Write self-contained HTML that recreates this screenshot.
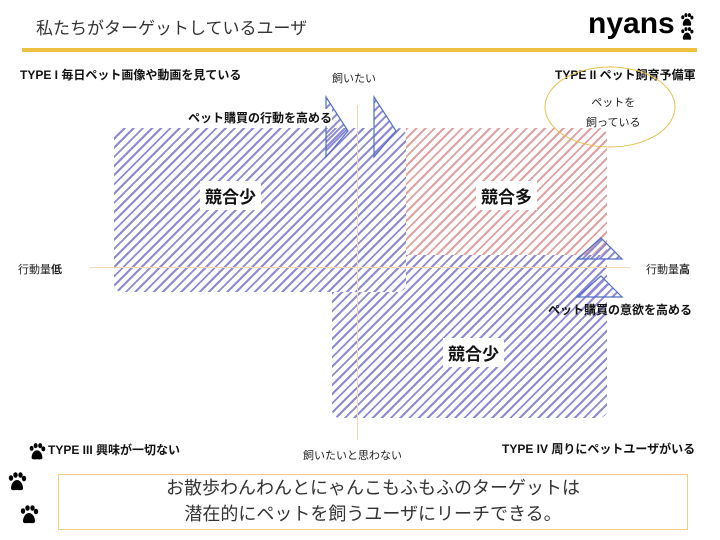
<!DOCTYPE html>
<html><head><meta charset="utf-8"><style>
body{margin:0;width:720px;height:540px;background:#fff;position:relative;overflow:hidden;font-family:"Liberation Sans","Noto Sans CJK JP",sans-serif;color:#222}
.a{position:absolute;white-space:nowrap}
.b{font-weight:bold;font-size:12px;color:#111}
.hb{position:absolute;border-radius:8px;background:repeating-linear-gradient(135deg,#8c8ad8 0 2px,#fff 2px 6.5px)}
.hr{position:absolute;background:repeating-linear-gradient(135deg,#e3a0a0 0 2px,#fff 2px 6.5px)}
.lbl{position:absolute;background:#fff;font-weight:bold;font-size:17px;padding:2px 5px;color:#111}
</style></head><body>
<svg width="0" height="0" style="position:absolute"><defs><symbol id="paw" viewBox="0 0 20 20"><ellipse cx="4" cy="6" rx="2.2" ry="2.8"/><ellipse cx="8.5" cy="3" rx="2.2" ry="2.8"/><ellipse cx="13.5" cy="3" rx="2.2" ry="2.8"/><ellipse cx="17" cy="6.5" rx="2.2" ry="2.8"/><path d="M10,8 C6,8 4,13 4,16 C4,19 7,18 10,18 C13,18 16,19 16,16 C16,13 14,8 10,8Z"/></symbol></defs></svg>
<div class="a" style="left:36px;top:14px;font-size:17px;color:#333">私たちがターゲットしているユーザ</div>
<div class="a" style="left:588px;top:7px;font-size:30px;font-weight:900;color:#000">nyans</div>
<svg class="a" style="left:680px;top:13px" width="14" height="14"><use href="#paw"/></svg>
<svg class="a" style="left:680px;top:27px" width="14" height="14"><use href="#paw"/></svg>
<div class="a" style="left:22px;top:48px;width:675px;height:4px;background:#f0c040"></div>
<div class="a b" style="left:20px;top:66px">TYPE I 毎日ペット画像や動画を見ている</div>
<div class="a b" style="left:555px;top:66px">TYPE II ペット飼育予備軍</div>
<div class="a b" style="left:48px;top:441px">TYPE III 興味が一切ない</div>
<div class="a b" style="left:502px;top:440px">TYPE IV 周りにペットユーザがいる</div>
<div class="a" style="left:332px;top:70px;font-size:11px">飼いたい</div>
<div class="a" style="left:303px;top:447px;font-size:11px">飼いたいと思わない</div>
<div class="a" style="left:18px;top:261px;font-size:11px">行動量<b>低</b></div>
<div class="a" style="left:646px;top:261px;font-size:11px">行動量<b>高</b></div>
<div class="hb" style="left:332px;top:255px;width:275px;height:163px"></div>
<div class="hb" style="left:114px;top:128px;width:292px;height:164px"></div>
<div class="hr" style="left:406px;top:128px;width:201px;height:127px;border-radius:0 8px 0 0"></div>
<div class="a" style="left:357px;top:105px;width:1px;height:335px;background:#f3d9b0"></div>
<div class="a" style="left:90px;top:267px;width:540px;height:1px;background:#f3d9b0"></div>
<div class="lbl" style="left:200px;top:181px">競合少</div>
<div class="lbl" style="left:476px;top:181px">競合多</div>
<div class="lbl" style="left:443px;top:338px">競合少</div>
<svg class="a" style="left:0;top:0" width="720" height="540">
<defs><pattern id="p" width="6" height="6" patternUnits="userSpaceOnUse" patternTransform="rotate(45)"><rect width="2" height="6" fill="#8c8ad8"/></pattern></defs>
<g stroke="#5070c8" stroke-width="1.2" fill="url(#p)">
<polygon points="326,97 348,131 326,157"/>
<polygon points="374,97 396,131 374,157"/>
<polygon points="577,259 601,238 622,259"/>
<polygon points="577,297 601,276 622,297"/>
</g>
<ellipse cx="610" cy="107" rx="65" ry="40" fill="none" stroke="#e8c050" stroke-width="1"/>
</svg>
<div class="a" style="left:188px;top:109px;font-size:12px;font-weight:bold;background:#fff;color:#111">ペット購買の行動を高める</div>
<div class="a" style="left:548px;top:301px;font-size:12px;font-weight:bold;color:#111">ペット購買の意欲を高める</div>
<div class="a" style="left:586px;top:93px;font-size:11px;line-height:20px;text-align:center">ペットを<br>飼っている</div>
<svg class="a" style="left:28px;top:442px" width="18" height="20"><use href="#paw"/></svg>
<svg class="a" style="left:7px;top:472px" width="20" height="20"><use href="#paw"/></svg>
<svg class="a" style="left:19px;top:505px" width="20" height="20"><use href="#paw"/></svg>
<div class="a" style="left:58px;top:474px;width:628px;height:54px;border:1px solid #f0d080;text-align:center;font-size:18px;line-height:26px;color:#333">お散歩わんわんとにゃんこもふもふのターゲットは<br>潜在的にペットを飼うユーザにリーチできる。</div>
</body></html>
